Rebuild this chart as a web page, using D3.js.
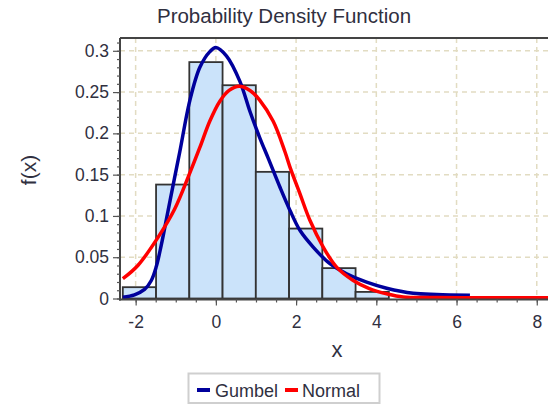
<!DOCTYPE html>
<html><head><meta charset="utf-8">
<script src="https://cdn.jsdelivr.net/npm/d3@7"></script>
<style>body{margin:0;background:#fff}svg{display:block}</style>
</head><body><svg id="c" width="548" height="404"></svg>
<script>
// ---- data ----
const binStarts  = [-2.32, -1.491, -0.662, 0.167, 0.996, 1.825, 2.654, 3.483];
const binWidth   = 0.829;
const binHeights = [0.0137, 0.138, 0.2863, 0.2583, 0.1534, 0.0847, 0.0368, 0.008];

const gumbelX = [-2.319, -2.03, -1.778, -1.613, -1.489, -1.364, -1.197, -1.03, -0.898, -0.648, -0.399, -0.15, 0.0, 0.267, 0.599, 0.848, 1.097, 1.304, 1.596, 1.845, 2.095, 2.426, 2.843, 3.259, 3.758, 4.257, 4.92, 5.504, 6.334];
const gumbelY = [0.0016, 0.0045, 0.011, 0.0215, 0.038, 0.064, 0.105, 0.146, 0.178, 0.240, 0.280, 0.299, 0.304, 0.2936, 0.263, 0.2268, 0.1943, 0.170, 0.135, 0.107, 0.0826, 0.0623, 0.0421, 0.030, 0.0198, 0.0125, 0.0064, 0.0049, 0.004];

const normalX = [-2.319, -1.945, -1.446, -1.03, -0.666, -0.399, -0.15, 0.1, 0.33, 0.581, 0.85, 1.097, 1.429, 1.72, 1.845, 2.095, 2.344, 2.676, 3.01, 3.424, 3.84, 4.257, 4.671, 5.5, 6.5, 7.5, 8.3];
const normalY = [0.024, 0.040, 0.0737, 0.108, 0.150, 0.183, 0.215, 0.239, 0.252, 0.257, 0.252, 0.240, 0.2146, 0.178, 0.1595, 0.127, 0.0947, 0.0623, 0.038, 0.0219, 0.0118, 0.0057, 0.0018, 0.0012, 0.001, 0.001, 0.001];

const xTicks = [-2, 0, 2, 4, 6, 8];
const xMinorTicks = d3.range(-2, 8.01, 0.5);
const yTicks = [0, 0.05, 0.1, 0.15, 0.2, 0.25, 0.3];
const yTickLabels = ["0", "0.05", "0.1", "0.15", "0.2", "0.25", "0.3"];
const yMinorTicks = d3.range(0, 0.3101, 0.01);
const seriesNames = ["Gumbel", "Normal"];
const seriesColors = ["#00009c", "#ff0000"];
const titleText = "Probability Density Function";
const xLabel = "x", yLabel = "f(x)";

// ---- layout ----
const svg = d3.select("#c");
const FONT = "'Liberation Sans', Arial, sans-serif";
const TXT = "#30303f";
const x = d3.scaleLinear().domain([-2.39, 8.28]).range([120, 548]);
const y = d3.scaleLinear().domain([0, 0.3155]).range([298.5, 38]);

svg.append("rect").attr("width", 548).attr("height", 404).attr("fill", "#fff");

// grid
const grid = svg.append("g").attr("stroke", "#e2dcc2").attr("stroke-width", 1.5).attr("stroke-dasharray", "5,4");
grid.selectAll(".vg").data(xTicks).join("line")
  .attr("x1", d => x(d)).attr("x2", d => x(d)).attr("y1", 38).attr("y2", 298.5);
grid.selectAll(".hg").data(yTicks.filter(d => d > 0)).join("line")
  .attr("x1", 120).attr("x2", 548).attr("y1", d => y(d)).attr("y2", d => y(d));

// histogram
svg.append("g").selectAll("rect").data(binStarts).join("rect")
  .attr("x", d => x(d)).attr("width", d => x(d + binWidth) - x(d))
  .attr("y", (d, i) => y(binHeights[i])).attr("height", (d, i) => y(0) - y(binHeights[i]))
  .attr("fill", "#cbe3fa").attr("stroke", "#333").attr("stroke-width", 1.8);

// curves
const line = d3.line().x(d => x(d[0])).y(d => y(d[1])).curve(d3.curveCatmullRom.alpha(0.5));
svg.append("path").datum(d3.zip(gumbelX, gumbelY)).attr("d", line)
  .attr("fill", "none").attr("stroke", seriesColors[0]).attr("stroke-width", 3.5);
svg.append("path").datum(d3.zip(normalX, normalY)).attr("d", line)
  .attr("fill", "none").attr("stroke", seriesColors[1]).attr("stroke-width", 3.5);

// frame (top)
svg.append("line").attr("x1", 120).attr("x2", 548).attr("y1", 38).attr("y2", 38).attr("stroke", "#444").attr("stroke-width", 2);

// axes
const yAxis = svg.append("g").attr("transform", "translate(120,0)")
  .call(d3.axisLeft(y).tickValues(yTicks).tickFormat((d, i) => yTickLabels[i]).tickSize(7).tickPadding(4));
const yMinor = svg.append("g").attr("transform", "translate(120,0)")
  .call(d3.axisLeft(y).tickValues(yMinorTicks).tickFormat("").tickSize(3));
const xAxis = svg.append("g").attr("transform", "translate(0,299.5)")
  .call(d3.axisBottom(x).tickValues(xTicks).tickFormat(d => d < 0 ? "-" + Math.abs(d) : d).tickSize(6).tickPadding(10));
const xMinor = svg.append("g").attr("transform", "translate(0,299.5)")
  .call(d3.axisBottom(x).tickValues(xMinorTicks).tickFormat("").tickSize(3));
[yAxis, yMinor, xAxis, xMinor].forEach(g => {
  g.select(".domain").attr("stroke", "#444").attr("stroke-width", 2);
  g.selectAll(".tick line").attr("stroke", "#555").attr("stroke-width", 1.2);
  g.selectAll("text").attr("font-family", FONT).attr("font-size", 17.5).attr("fill", TXT);
});
yMinor.select(".domain").remove();
xMinor.select(".domain").remove();
yAxis.select(".domain").attr("d", "M0,38V300.5");
xAxis.select(".domain").attr("d", "M119,0H548");

// title & labels
svg.append("text").attr("x", 284).attr("y", 23).attr("text-anchor", "middle")
  .attr("font-family", FONT).attr("font-size", 20.5).attr("fill", TXT).text(titleText);
svg.append("text").attr("x", 337).attr("y", 356.5).attr("text-anchor", "middle")
  .attr("font-family", FONT).attr("font-size", 22).attr("fill", TXT).text(xLabel);
svg.append("text").attr("transform", "translate(36,170) rotate(-90)").attr("text-anchor", "middle")
  .attr("font-family", FONT).attr("font-size", 21).attr("fill", TXT).text(yLabel);

// legend
const lg = svg.append("g");
lg.append("rect").attr("x", 188.5).attr("y", 373.5).attr("width", 191).attr("height", 29.5)
  .attr("fill", "#fff").attr("stroke", "#cfcfcf").attr("stroke-width", 2);
const legendPos = [[197, 215], [285, 302]];
seriesNames.forEach((n, i) => {
  lg.append("line").attr("x1", legendPos[i][0]).attr("x2", legendPos[i][0] + 13).attr("y1", 390).attr("y2", 390)
    .attr("stroke", seriesColors[i]).attr("stroke-width", 4);
  lg.append("text").attr("x", legendPos[i][1]).attr("y", 396.5)
    .attr("font-family", FONT).attr("font-size", 18).attr("fill", TXT).text(n);
});
</script></body></html>
